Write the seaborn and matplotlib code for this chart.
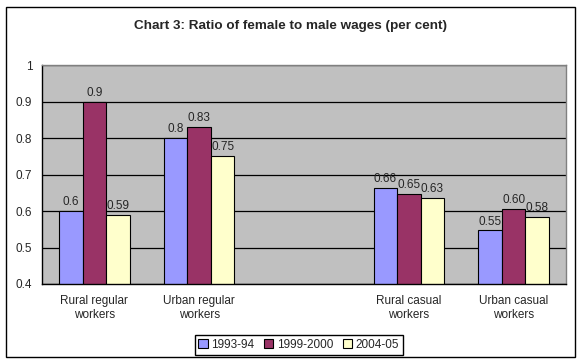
import numpy as np
import pandas as pd
import matplotlib
matplotlib.use('Agg')
import matplotlib.pyplot as plt
import seaborn as sns
from matplotlib.patches import Rectangle

categories = ['Rural regular\nworkers', 'Urban regular\nworkers', ' ',
              'Rural casual\nworkers', 'Urban casual\nworkers']
series = ['1993-94', '1999-2000', '2004-05']
rural_regular = [0.60, 0.90, 0.59]
urban_regular = [0.80, 0.83, 0.75]
rural_casual = [0.663, 0.646, 0.635]
urban_casual = [0.547, 0.605, 0.583]
value_labels = [['0.6', '0.8', '0.66', '0.55'],
                ['0.9', '0.83', '0.65', '0.60'],
                ['0.59', '0.75', '0.63', '0.58']]
colors = ['#9999FF', '#993366', '#FFFFCC']

rows = []
for cat, vals in zip([categories[0], categories[1], categories[3], categories[4]],
                     [rural_regular, urban_regular, rural_casual, urban_casual]):
    for s, v in zip(series, vals):
        rows.append({'cat': cat, 'series': s, 'ratio': v})
df = pd.DataFrame(rows)

sns.set_style('white')
plt.rcParams['font.family'] = ['Liberation Sans', 'DejaVu Sans']

fig = plt.figure(figsize=(5.81, 3.64), dpi=100)
ax = fig.add_axes([42 / 581, 1 - 284 / 364, 524 / 581, 219 / 364])
ax.set_facecolor('#C0C0C0')

sns.barplot(data=df, x='cat', y='ratio', hue='series', order=categories,
            hue_order=series, palette=colors, width=0.67, ax=ax,
            edgecolor='black', linewidth=0.8, saturation=1)

for cont, labs in zip(ax.containers, value_labels):
    ax.bar_label(cont, labels=labs, padding=2, fontsize=8.5)

ax.set_ylim(0.4, 1.0)
ax.set_xlim(-0.5, 4.5)
ax.set_yticks(np.arange(0.4, 1.01, 0.1))
ax.set_yticklabels(['0.4', '0.5', '0.6', '0.7', '0.8', '0.9', '1'], fontsize=8.5)
ax.yaxis.grid(True, color='black', linewidth=0.9)
ax.set_axisbelow(True)
ax.set_xlabel('')
ax.set_ylabel('')
ax.tick_params(axis='x', length=0, labelsize=8.5, pad=8)
ax.set_xticks(np.arange(-0.5, 4.6, 1), minor=True)
ax.tick_params(axis='x', which='minor', length=4, direction='out', color='black')
ax.tick_params(axis='y', length=4, direction='out', color='black', pad=3)
for side in ['left', 'bottom']:
    ax.spines[side].set_color('black')
    ax.spines[side].set_linewidth(1)
for side in ['top', 'right']:
    ax.spines[side].set_color('#808080')
    ax.spines[side].set_linewidth(1)

ax.legend(loc='upper center', bbox_to_anchor=(0.49, -0.235), ncol=3,
          frameon=True, fancybox=False, edgecolor='black', fontsize=8.5,
          handlelength=0.8, handleheight=0.8, handletextpad=0.3,
          columnspacing=0.8, borderpad=0.3, framealpha=1, borderaxespad=0)

fig.text(0.5, 1 - 26 / 364, 'Chart 3: Ratio of female to male wages (per cent)',
         ha='center', va='center', fontsize=9.7, fontweight='bold')
fig.patches.append(Rectangle((6 / 581, 7 / 364), 569 / 581, 350 / 364,
                             transform=fig.transFigure, fill=False,
                             edgecolor='black', linewidth=1))

fig.savefig('out.png', dpi=100)
